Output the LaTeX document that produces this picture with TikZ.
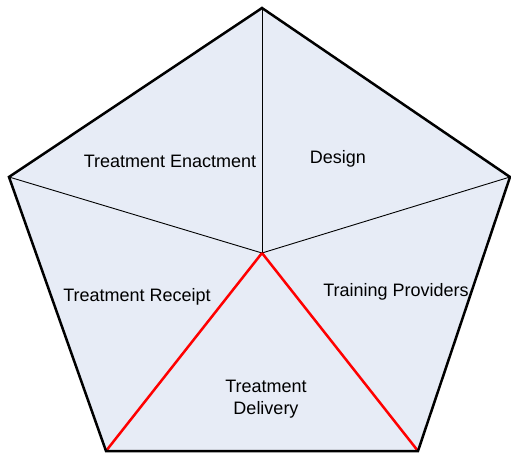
\documentclass[tikz,border=0pt]{standalone}
\usepackage{fontspec}
\setmainfont{Liberation Sans}
\begin{document}
\begin{tikzpicture}[x=1pt,y=-1pt,
  rim/.style={draw=black,line width=2.5pt,line join=miter},
  spoke/.style={draw=black,line width=0.9pt},
  redspoke/.style={draw=red,line width=2.5pt},
  lbl/.style={font=\fontsize{18}{22}\selectfont,align=center,inner sep=0pt}]
\useasboundingbox (0,0) rectangle (511,454);
\coordinate (T) at (262,8);
\coordinate (R) at (510,177);
\coordinate (BR) at (418,451);
\coordinate (BL) at (106,451);
\coordinate (L) at (9,177);
\coordinate (C) at (262,253);
\fill[fill={rgb,255:red,231;green,236;blue,246}] (T) -- (R) -- (BR) -- (BL) -- (L) -- cycle;
\draw[spoke] (C) -- (T);
\draw[spoke] (C) -- (L);
\draw[spoke] (C) -- (R);
\draw[redspoke] (C) -- (BL);
\draw[redspoke] (C) -- (BR);
\draw[rim] (T) -- (R) -- (BR) -- (BL) -- (L) -- cycle;
\node[lbl] (enact) at (170,161) {Treatment Enactment};
\node[lbl] (design) at (338,159) {Design};
\node[lbl] (receipt) at (137,297) {Treatment Receipt};
\node[lbl] (train) at (396,292) {Training Providers};
\node[lbl] (deliv) at (266,399) {Treatment\\Delivery};
\end{tikzpicture}
\end{document}
